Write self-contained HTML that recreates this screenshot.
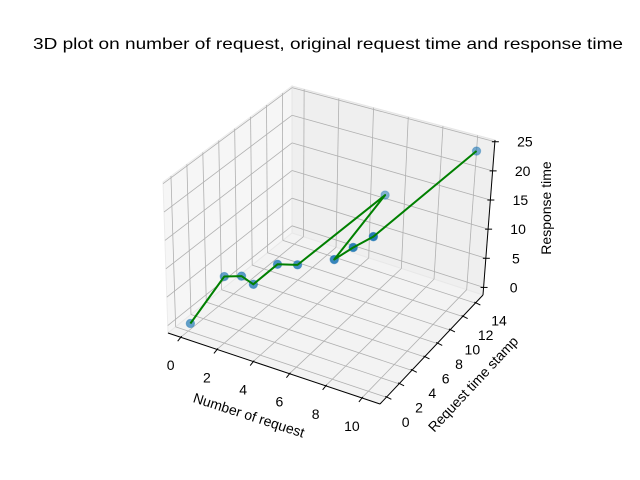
<!DOCTYPE html>
<html><head><meta charset="utf-8"><style>
html,body{margin:0;padding:0;background:#fff;}
svg{display:block;font-family:"Liberation Sans","DejaVu Sans",sans-serif;}
</style></head><body>
<svg id="chart" width="640" height="480" viewBox="0 0 640 480" xmlns="http://www.w3.org/2000/svg">
<rect width="640" height="480" fill="#fff"/>
<text x="328" y="49" text-anchor="middle" font-size="16" fill="#000" textLength="590" lengthAdjust="spacingAndGlyphs">3D plot on number of request, original request time and response time</text>
<g id="panes"></g><g id="grid"></g><g id="axes"></g><g id="marks"></g>
<text x="249" y="420" text-anchor="middle" font-size="14" transform="rotate(18 249 415)">Number of request</text>
<text x="473" y="389" text-anchor="middle" font-size="14" transform="rotate(-47 473 384)">Request time stamp</text>
<text x="546" y="213" text-anchor="middle" font-size="14" transform="rotate(-90 546 208)">Response time</text>
</svg>
<script>
const reqNum = [0,1,2,3,4,5,6,7,8,9,10];
const reqTime = [0.3,2.54,2.47,1.66,2.54,2.83,12.4,2.96,3.1,3.4,15.2];
const respTime = [-0.3,6.5,7.6,8.0,11.4,11.9,14.6,14.4,17.1,19.4,22.6];
const xTicks = [0,2,4,6,8,10];
const yTicks = [0,2,4,6,8,10,12,14];
const zTicks = [0,5,10,15,20,25];

const XL=[-0.7,11], YL=[-1,15.2], ZL=[-1.3,25.3];
const C={ '000':[168,333],'100':[380,404],'010':[292,233],'110':[483,295],
          '001':[163,182],'101':[378,236],'011':[292,86],'111':[495,140]};
function P(x,y,z){
  const u=(x-XL[0])/(XL[1]-XL[0]), v=(y-YL[0])/(YL[1]-YL[0]), w=(z-ZL[0])/(ZL[1]-ZL[0]);
  let sx=0,sy=0;
  for(const a of [0,1])for(const b of [0,1])for(const c of [0,1]){
    const wt=(a?u:1-u)*(b?v:1-v)*(c?w:1-w); const p=C[''+a+b+c];
    sx+=wt*p[0]; sy+=wt*p[1];
  }
  return [sx,sy];
}
const NS='http://www.w3.org/2000/svg';
function mk(tag,parent,attrs){const e=document.createElementNS(NS,tag);for(const k in attrs)e.setAttribute(k,attrs[k]);parent.appendChild(e);return e;}
const panes=document.getElementById('panes'),grid=document.getElementById('grid'),axes=document.getElementById('axes'),marks=document.getElementById('marks');
function poly(pts){return pts.map(p=>p.join(',')).join(' ');}
let e;
e=mk('polygon',panes,{points:poly([C['000'],C['010'],C['011'],C['001']]),fill:'#f6f6f6',stroke:'#ececec'});


e=mk('polygon',panes,{points:poly([C['010'],C['110'],C['111'],C['011']]),fill:'#efefef',stroke:'#e6e6e6'});


e=mk('polygon',panes,{points:poly([C['000'],C['100'],C['110'],C['010']]),fill:'#f3f3f3',stroke:'#e8e8e8'});


function ln(parent,a,b,col,w,name){const l=mk('line',parent,{x1:a[0],y1:a[1],x2:b[0],y2:b[1],stroke:col,'stroke-width':w});

return l;}
const G='#b0b0b0';
xTicks.forEach(t=>{ln(grid,P(t,YL[0],ZL[0]),P(t,YL[1],ZL[0]),G,0.8,'x-gridline');ln(grid,P(t,YL[1],ZL[0]),P(t,YL[1],ZL[1]),G,0.8,'x-gridline');});
yTicks.forEach(t=>{ln(grid,P(XL[0],t,ZL[0]),P(XL[1],t,ZL[0]),G,0.8,'y-gridline');ln(grid,P(XL[0],t,ZL[0]),P(XL[0],t,ZL[1]),G,0.8,'y-gridline');});
zTicks.forEach(t=>{ln(grid,P(XL[0],YL[0],t),P(XL[0],YL[1],t),G,0.8,'z-gridline');ln(grid,P(XL[0],YL[1],t),P(XL[1],YL[1],t),G,0.8,'z-gridline');});
ln(axes,P(XL[0],YL[0],ZL[0]),P(XL[1],YL[0],ZL[0]),'#000',1,'x-axis-line');
ln(axes,P(XL[1],YL[0],ZL[0]),P(XL[1],YL[1],ZL[0]),'#000',1,'y-axis-line');
ln(axes,P(XL[1],YL[1],ZL[0]),P(XL[1],YL[1],ZL[1]),'#000',1,'z-axis-line');
function lab(p,txt,name){const t=mk('text',axes,{x:p[0],y:p[1]+5,'text-anchor':'middle','font-size':14,fill:'#000'});t.textContent=txt;

}
xTicks.forEach(t=>{const p=P(t,YL[0],ZL[0]);ln(axes,[p[0]+1,p[1]-1],[p[0]-3,p[1]+4],'#000',1,'x-tick');lab([p[0]-10,p[1]+28],String(t),'x-tick-label');});
yTicks.forEach(t=>{const p=P(XL[1],t,ZL[0]);const v=(t-YL[0])/(YL[1]-YL[0]);ln(axes,[p[0]-1,p[1]-1],[p[0]+5,p[1]+2],'#000',1,'y-tick');lab([p[0]+19+5*v,p[1]+25-8*v],String(t),'y-tick-label');});
zTicks.forEach(t=>{const p=P(XL[1],YL[1],t);ln(axes,[p[0]-3,p[1]],[p[0]+4,p[1]],'#000',1,'z-tick');lab([p[0]+30,p[1]],String(t),'z-tick-label');});
reqNum.forEach((x,i)=>{
  const p=P(x,reqTime[i],respTime[i]);
  const u=(x-XL[0])/(XL[1]-XL[0]),v=(reqTime[i]-YL[0])/(YL[1]-YL[0]),w=(respTime[i]-ZL[0])/(ZL[1]-ZL[0]);
  let near=(0.5*u+0.87*(1-v)+0.3*w)/1.67;
  const a=0.35+0.65*Math.max(0,Math.min(1,(near-0.2)/0.6));
  const c=mk('circle',marks,{cx:p[0],cy:p[1],r:4.2,fill:'#1f77b4','fill-opacity':a,stroke:'#1f77b4','stroke-opacity':a*0.6,'stroke-width':1});
  
  
});
const path=reqNum.map((x,i)=>P(x,reqTime[i],respTime[i]).map(n=>n.toFixed(1)).join(',')).join(' ');
const pl=mk('polyline',marks,{points:path,fill:'none',stroke:'#008000','stroke-width':2,'stroke-linejoin':'round'});


</script>
</body></html>
